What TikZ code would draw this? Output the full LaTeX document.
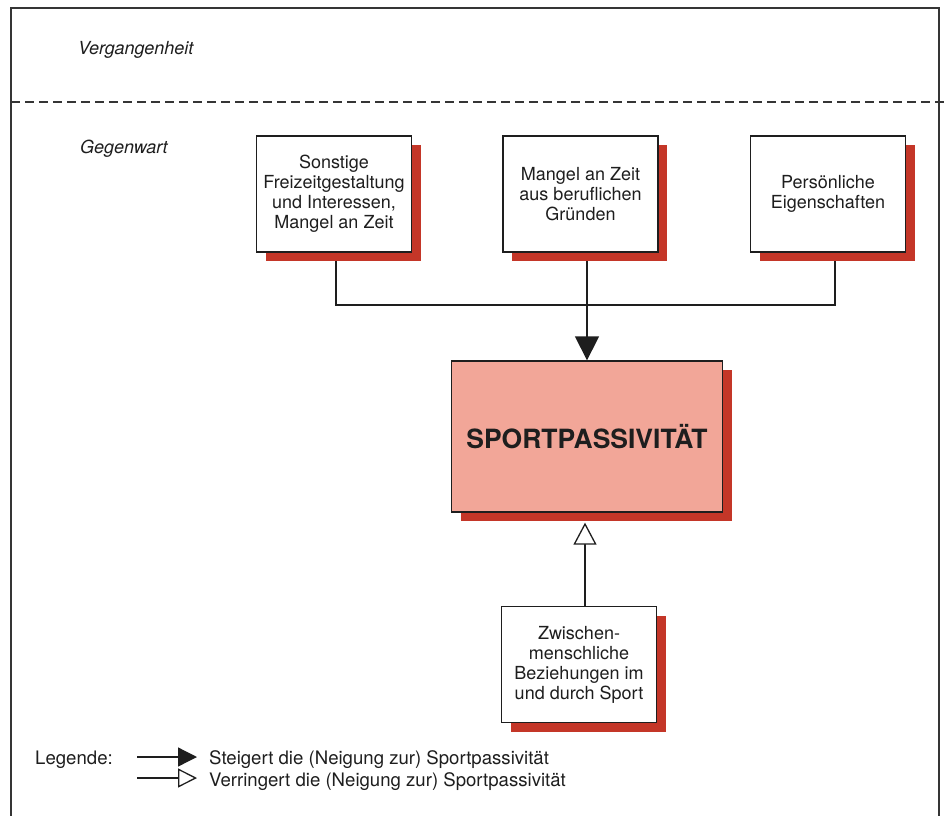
\documentclass[tikz,border=0pt]{standalone}
\usepackage{fontspec}
\setmainfont{TeX Gyre Heros}
\usetikzlibrary{arrows.meta,shadows,backgrounds}
\definecolor{shadowred}{RGB}{196,54,40}
\definecolor{mainfill}{RGB}{242,166,152}
\definecolor{ink}{RGB}{30,30,30}
\begin{document}
\begin{tikzpicture}[x=1pt,y=-1pt,
  box/.style={draw=ink, line width=1.3pt, fill=white, align=center, text=ink,
    font=\fontsize{18}{20}\selectfont, inner sep=0pt,
    minimum width=155pt, minimum height=116pt,
    drop shadow={shadow xshift=9pt, shadow yshift=-9pt, fill=shadowred, opacity=1, draw=none}},
  conn/.style={draw=ink, line width=1.3pt},
  label/.style={text=ink, font=\fontsize{18}{20}\selectfont\itshape, inner sep=0pt},
  legend/.style={text=ink, font=\fontsize{18.6}{20}\selectfont, inner sep=0pt},
  frame/.style={draw=ink!90, line width=1.4pt}
]
\useasboundingbox (0,0) rectangle (945,816);
% frame and divider
\draw[frame] (11,816) -- (11,8) -- (939,8) -- (939,816);
\draw[frame, line width=1.3pt, dash pattern=on 9pt off 5pt] (11,102) -- (945,102);
% period labels
\node[label, anchor=base west] (past) at (78,55) {Vergangenheit};
\node[label, anchor=base west] (now) at (80,153) {Gegenwart};
% boxes
\node[box] (b1) at (334,194) {Sonstige\\Freizeitgestaltung\\und Interessen,\\Mangel an Zeit};
\node[box] (b2) at (580.5,194) {Mangel an Zeit\\aus beruflichen\\Gründen};
\node[box] (b3) at (828,194) {Persönliche\\Eigenschaften};
\node[box, fill=mainfill, minimum width=271pt, minimum height=151pt,
  font=\fontsize{26.5}{30}\selectfont\bfseries] (main) at (587,436.5) {SPORTPASSIVITÄT};
\node[box] (b4) at (579,664.5) {Zwischen-\\menschliche\\Beziehungen im\\und durch Sport};
% connectors
\coordinate (t1) at ([xshift=2pt]b1.south);
\coordinate (t3) at ([xshift=7pt]b3.south);
\coordinate (bar) at (0,305);
\coordinate (tipB) at ([xshift=-2pt,yshift=-10pt]main.south);
\begin{scope}[on background layer]
  \draw[conn] (t1) -- (t1 |- bar) -- (t3 |- bar) -- (t3);
  \draw[conn, -{Triangle[length=24pt,width=24pt]}] (b2.south -| main.north) -- (main.north);
\end{scope}
\draw[conn, -{Triangle[open,fill=white,length=22pt,width=23pt]}] (b4.north -| tipB) -- (tipB);
% legend
\node[legend, anchor=base west] (leg) at (35,764) {Legende:};
\coordinate (la1) at (137,757);
\coordinate (lb1) at (197,757);
\coordinate (la2) at (137,778);
\coordinate (lb2) at (197,778);
\draw[conn, -{Triangle[length=19pt,width=19pt]}] (la1) -- (lb1);
\draw[conn, -{Triangle[open,fill=white,length=19pt,width=19pt]}] (la2) -- (lb2);
\node[legend, anchor=base west] (lt1) at (209,764) {Steigert die (Neigung zur) Sportpassivität};
\node[legend, anchor=base west] (lt2) at (209,786) {Verringert die (Neigung zur) Sportpassivität};
\end{tikzpicture}
\end{document}
